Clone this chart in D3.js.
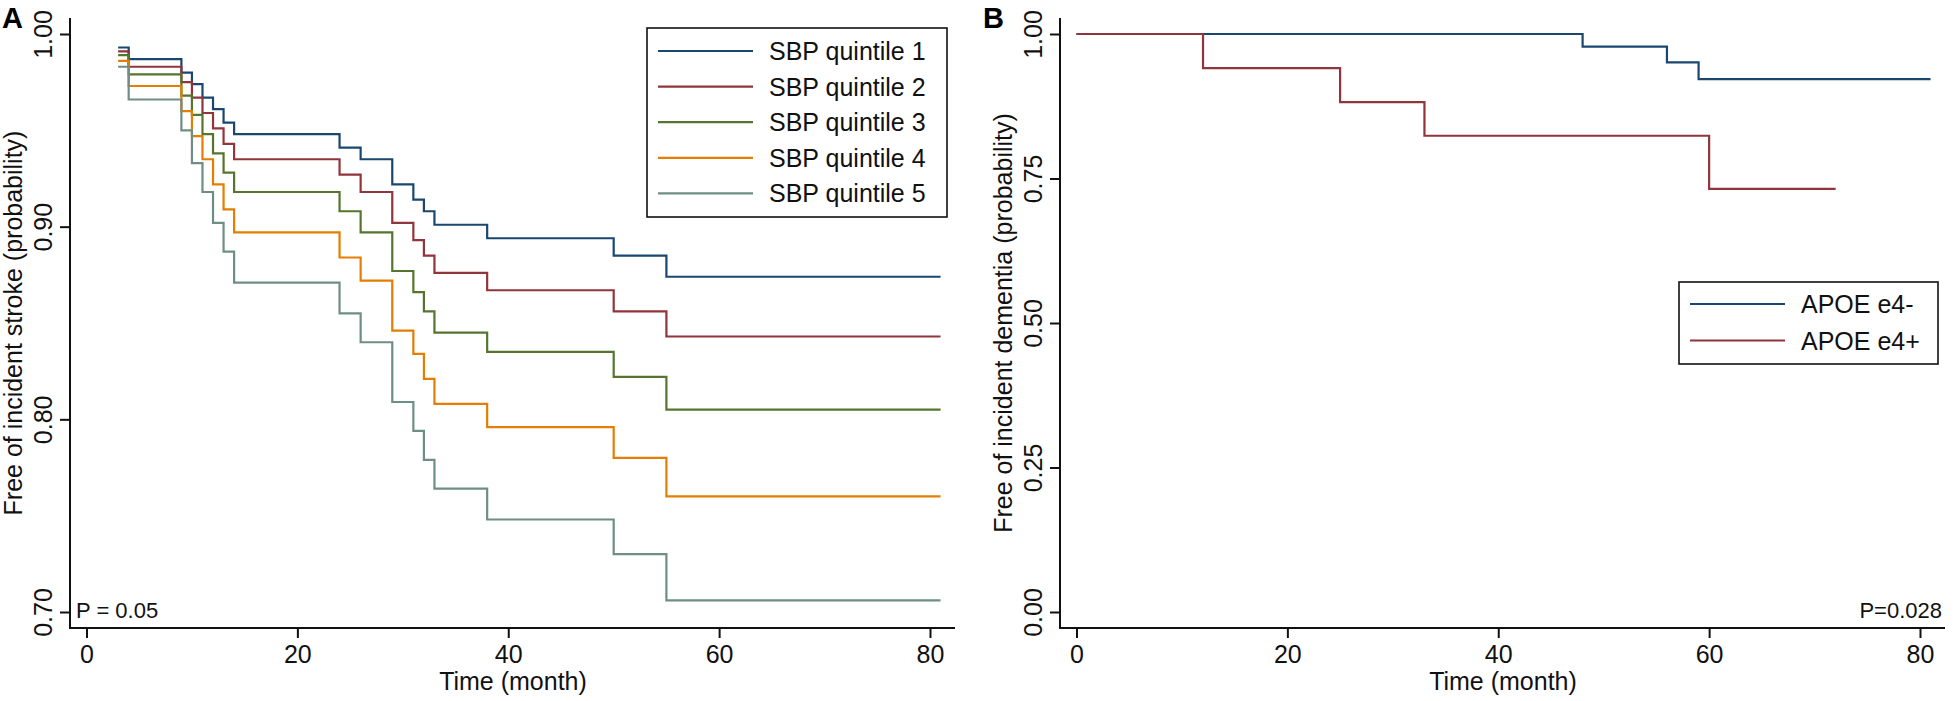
<!DOCTYPE html>
<html>
<head>
<meta charset="utf-8">
<script src="https://cdn.jsdelivr.net/npm/d3@7"></script>
<style>
  body { margin: 0; background: #fff; }
  svg { font-family: "Liberation Sans", Arial, sans-serif; }
</style>
</head>
<body>
<svg id="chart" width="1955" height="701"></svg>
<script>
// ---- panel A data (Kaplan-Meier steps, month -> survival)
var timesA = [3, 4, 9, 10, 11, 12, 13, 14, 24, 26, 29, 31, 32, 33, 38, 50, 55, 81];
var sbp1 = [0.993, 0.987, 0.980, 0.974, 0.967, 0.961, 0.954, 0.948, 0.941, 0.935, 0.922, 0.914, 0.908, 0.901, 0.894, 0.885, 0.874, 0.874];
var sbp2 = [0.991, 0.983, 0.975, 0.967, 0.959, 0.951, 0.943, 0.935, 0.927, 0.918, 0.902, 0.893, 0.885, 0.876, 0.867, 0.856, 0.843, 0.843];
var sbp3 = [0.989, 0.979, 0.968, 0.958, 0.948, 0.938, 0.928, 0.918, 0.908, 0.897, 0.877, 0.866, 0.856, 0.845, 0.835, 0.822, 0.805, 0.805];
var sbp4 = [0.986, 0.973, 0.960, 0.947, 0.935, 0.922, 0.909, 0.897, 0.884, 0.872, 0.846, 0.834, 0.821, 0.808, 0.796, 0.780, 0.760, 0.760];
var sbp5 = [0.983, 0.966, 0.950, 0.933, 0.918, 0.902, 0.887, 0.871, 0.855, 0.840, 0.809, 0.794, 0.779, 0.764, 0.748, 0.730, 0.706, 0.706];
var namesA = ["SBP quintile 1", "SBP quintile 2", "SBP quintile 3", "SBP quintile 4", "SBP quintile 5"];
var ticksAx = [0, 20, 40, 60, 80];
var ticksAy = [0.70, 0.80, 0.90, 1.00];

// ---- panel B data
var timesNeg = [0, 48, 56, 59, 81];
var apoeNeg = [1.000, 0.978, 0.951, 0.922, 0.922];
var timesPos = [0, 12, 25, 33, 60, 72];
var apoePos = [1.000, 0.941, 0.882, 0.824, 0.732, 0.732];
var namesB = ["APOE e4-", "APOE e4+"];
var ticksBy = [0.00, 0.25, 0.50, 0.75, 1.00];

var colors = ["#1a476f", "#90353b", "#55752f", "#e37e00", "#6e8e84"];

var svg = d3.select("#chart");

function zip(ts, vs) {
  return ts.map(function(t, i) { return { t: t, v: vs[i] }; });
}

function drawPanel(opt) {
  var g = svg.append("g").attr("transform", "translate(" + opt.dx + ",0)");

  var x = d3.scaleLinear().domain([0, 80]).range([86.5, 930]);
  var y = d3.scaleLinear().domain(opt.ydom).range([612, 34]);

  // axes lines (Stata style, left + bottom only)
  g.append("line").attr("x1", 70).attr("x2", 70).attr("y1", 18).attr("y2", 628)
    .attr("stroke", "#111").attr("stroke-width", 2);
  g.append("line").attr("x1", 69).attr("x2", 955).attr("y1", 628).attr("y2", 628)
    .attr("stroke", "#111").attr("stroke-width", 2);

  var xa = g.append("g").attr("transform", "translate(0,628)")
    .call(d3.axisBottom(x).tickValues(ticksAx).tickSize(10).tickPadding(7).tickFormat(d3.format("d")));
  xa.select(".domain").remove();
  xa.selectAll("line").attr("stroke", "#111").attr("stroke-width", 2);
  xa.selectAll("text").attr("font-size", 25).attr("fill", "#111").attr("font-family", null);

  var ya = g.append("g").attr("transform", "translate(70,0)")
    .call(d3.axisLeft(y).tickValues(opt.yticks).tickSize(10).tickFormat(d3.format(".2f")));
  ya.select(".domain").remove();
  ya.selectAll("line").attr("stroke", "#111").attr("stroke-width", 2);
  ya.selectAll("text")
    .attr("font-size", 25).attr("fill", "#111").attr("font-family", null)
    .attr("x", 0).attr("y", -18).attr("dy", 0)
    .attr("text-anchor", "middle")
    .attr("transform", "rotate(-90)");

  // titles
  g.append("text").attr("x", 513).attr("y", 690).attr("text-anchor", "middle")
    .attr("font-size", 25).attr("fill", "#111").text("Time (month)");
  g.append("text").attr("transform", "translate(22,323) rotate(-90)").attr("text-anchor", "middle")
    .attr("font-size", 25).attr("fill", "#111").text(opt.ylabel);
  g.append("text").attr("x", opt.letterX).attr("y", 28).attr("font-size", 29).attr("font-weight", "bold")
    .attr("fill", "#000").text(opt.letter);

  // survival curves
  var line = d3.line().x(function(d) { return x(d.t); }).y(function(d) { return y(d.v); })
    .curve(d3.curveStepAfter);
  g.selectAll("path.km").data(opt.series).enter().append("path")
    .attr("class", "km")
    .attr("d", function(d) { return line(d.pts); })
    .attr("fill", "none")
    .attr("stroke", function(d) { return d.color; })
    .attr("stroke-width", 2.2);

  // p value
  g.append("text").attr("x", opt.p.x).attr("y", 618).attr("text-anchor", opt.p.anchor)
    .attr("font-size", 22).attr("fill", "#111").text(opt.p.text);

  // legend
  var L = opt.legend;
  g.append("rect").attr("x", L.x).attr("y", L.y).attr("width", L.w).attr("height", L.h)
    .attr("fill", "#fff").attr("stroke", "#111").attr("stroke-width", 1.6);
  var items = g.selectAll("g.leg").data(opt.series).enter().append("g")
    .attr("class", "leg")
    .attr("transform", function(d, i) { return "translate(0," + (L.y0 + i * L.step) + ")"; });
  items.append("line").attr("x1", L.x + 11).attr("x2", L.x + 106)
    .attr("stroke", function(d) { return d.color; }).attr("stroke-width", 2.2);
  items.append("text").attr("x", L.x + 122).attr("y", 9).attr("font-size", 25).attr("fill", "#111")
    .text(function(d) { return d.name; });
}

drawPanel({
  dx: 0,
  letter: "A", letterX: 2,
  ydom: [0.70, 1.00], yticks: ticksAy,
  ylabel: "Free of incident stroke (probability)",
  series: [sbp1, sbp2, sbp3, sbp4, sbp5].map(function(v, i) {
    return { name: namesA[i], color: colors[i], pts: zip(timesA, v) };
  }),
  p: { text: "P = 0.05", x: 76, anchor: "start" },
  legend: { x: 647, y: 28, w: 300, h: 189, y0: 51, step: 35.6 }
});

drawPanel({
  dx: 990,
  letter: "B", letterX: -7,
  ydom: [0.00, 1.00], yticks: ticksBy,
  ylabel: "Free of incident dementia (probability)",
  series: [
    { name: namesB[0], color: colors[0], pts: zip(timesNeg, apoeNeg) },
    { name: namesB[1], color: colors[1], pts: zip(timesPos, apoePos) }
  ],
  p: { text: "P=0.028", x: 952, anchor: "end" },
  legend: { x: 689, y: 282, w: 259, h: 82, y0: 304, step: 36.5 }
});
</script>
</body>
</html>
